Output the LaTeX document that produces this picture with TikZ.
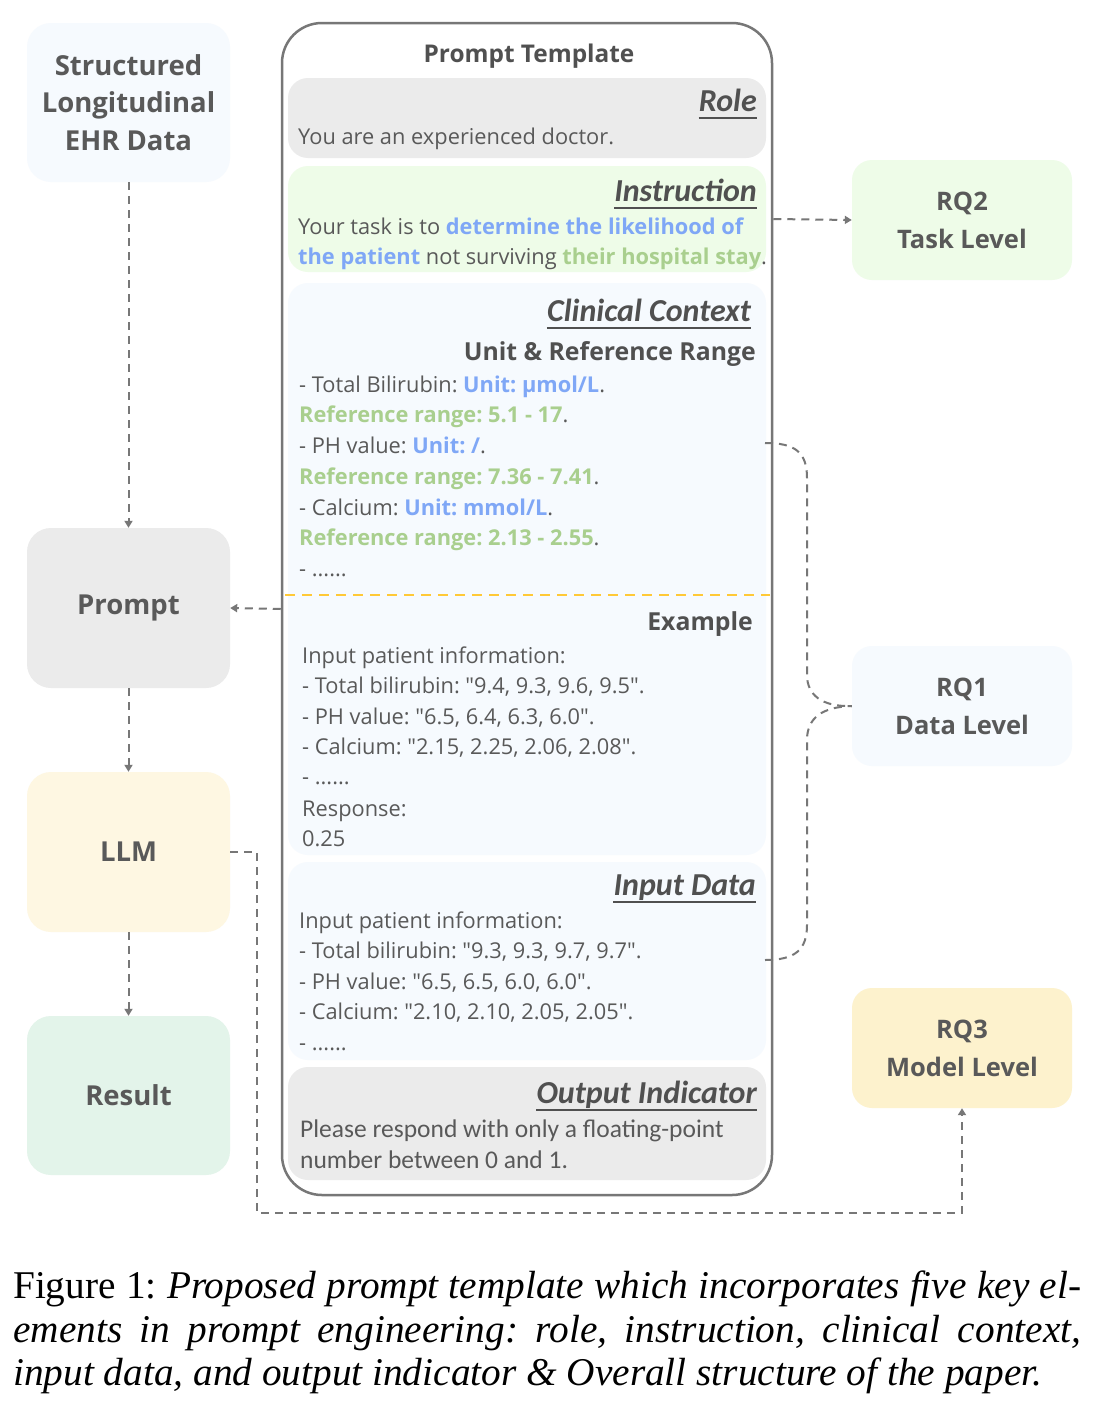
\documentclass[tikz,border=0pt]{standalone}
\usepackage{fontspec}
\setmainfont{Open Sans}[Ligatures=TeXOff]
\newfontfamily\calfont{Carlito}
\newfontfamily\capfont{Liberation Serif}
\usetikzlibrary{arrows.meta,calc}

\definecolor{txt}{HTML}{595959}
\definecolor{hdr}{HTML}{505050}
\definecolor{lgray}{HTML}{EBEBEB}
\definecolor{lgreen}{HTML}{EEFCE8}
\definecolor{lblue}{HTML}{F6FAFE}
\definecolor{lyel}{HTML}{FEF7E2}
\definecolor{lyeltwo}{HTML}{FDF2CD}
\definecolor{lmint}{HTML}{E3F4EA}
\definecolor{hiblue}{HTML}{7FA7F6}
\definecolor{higreen}{HTML}{A9CF8E}
\definecolor{linegray}{HTML}{777777}
\definecolor{dashyel}{HTML}{FFC937}

\newcommand\bluetxt[1]{{\bfseries\color{hiblue}#1}}
\newcommand\greentxt[1]{{\bfseries\color{higreen}#1}}

\begin{document}
\frenchspacing
\begin{tikzpicture}[x=1pt,y=-1pt,
  sidebox/.style={rounded corners=24pt, minimum width=203pt, align=center, text=txt, inner sep=0,
    font=\fontsize{27.5}{37.5}\selectfont\bfseries},
  rqbox/.style={rounded corners=20pt, minimum width=220pt, minimum height=120pt, align=center, text=txt, inner sep=0,
    font=\fontsize{25.5}{38}\selectfont\bfseries},
  part/.style={rounded corners=20pt, minimum width=478pt, inner sep=0},
  body/.style={anchor=base west, inner sep=0, text=txt, font=\fontsize{21.8}{26}\selectfont},
  calbody/.style={anchor=base west, inner sep=0, text=txt, font=\calfont\fontsize{25.5}{30}\selectfont},
  hd/.style={anchor=base east, inner sep=0, text=hdr, font=\calfont\fontsize{32}{36}\selectfont\bfseries\itshape},
  subhd/.style={anchor=base east, inner sep=0, text=hdr, font=\fontsize{24.8}{28}\selectfont\bfseries},
  uline/.style={draw=hdr, line width=1.5pt},
  conn/.style={draw=linegray, line width=2pt, dash pattern=on 8pt off 6pt},
  arr/.style={conn, -{Triangle[width=8pt,length=7pt]}},
  capline/.style={anchor=base west, inner sep=0, font=\capfont\fontsize{39.3}{44}\selectfont}
]
\fill[white] (0,0) rectangle (1094,1416);
\path[use as bounding box] (0,0) rectangle (1094,1416);

% left column
\node[sidebox, fill=lblue, minimum height=159pt] (ehr) at (128.5,102.5) {Structured\\Longitudinal\\EHR Data};
\node[sidebox, fill=lgray, minimum height=160pt] (prompt) at (128.5,608) {Prompt};
\node[sidebox, fill=lyel, minimum height=160pt] (llm) at (128.5,852) {LLM};
\node[sidebox, fill=lmint, minimum height=159pt] (result) at (128.5,1095.5) {Result};

% right column
\node[rqbox, fill=lgreen] (rq2) at (962,220) {RQ2\\Task Level};
\node[rqbox, fill=lblue] (rq1) at (962,706) {RQ1\\Data Level};
\node[rqbox, fill=lyeltwo] (rq3) at (962,1048) {RQ3\\Model Level};

% template
\node[draw=linegray, line width=2.5pt, rounded corners=40pt, minimum width=490pt, minimum height=1172pt, inner sep=0] (tmpl) at (527,609) {};
\node[anchor=base, inner sep=0, text=hdr, font=\fontsize{24.4}{28}\selectfont\bfseries] (ttl) at (529,62) {Prompt Template};

\node[part, fill=lgray, minimum height=80pt] (role) at (527,118) {};
\node[part, fill=lgreen, minimum height=106pt] (instr) at (527,219) {};
\node[part, fill=lblue, minimum height=572pt] (clin) at (527,569) {};
\node[part, fill=lblue, minimum height=198pt] (inp) at (527,961) {};
\node[part, fill=lgray, minimum height=113pt] (outp) at (527,1123.5) {};

\draw[draw=dashyel, line width=2.5pt, dash pattern=on 10pt off 7pt] (285,595) -- (770,595);

% Role
\node[hd] (hrole) at (757,111) {Role};
\draw[uline] ([yshift=-7pt]hrole.base west) -- ([yshift=-7pt]hrole.base east);
\node[body] (t1) at (298,144) {You are an experienced doctor.};

% Instruction
\node[hd] (hinstr) at (757,201) {Instruction};
\draw[uline] ([yshift=-7pt]hinstr.base west) -- ([yshift=-7pt]hinstr.base east);
\node[body] (t2) at (298,234) {Your task is to \bluetxt{determine the likelihood of}};
\node[body] (t3) at (298,264) {\bluetxt{the patient} not surviving \greentxt{their hospital stay}.};

% Clinical context
\node[hd] (hclin) at (751,321) {Clinical Context};
\draw[uline] ([yshift=-7pt]hclin.base west) -- ([yshift=-7pt]hclin.base east);
\node[subhd] (hunit) at (756,360) {Unit \& Reference Range};
\node[body] (c1) at (299,392) {- Total Bilirubin: \bluetxt{Unit: µmol/L}.};
\node[body] (c2) at (299,422) {\greentxt{Reference range: 5.1 - 17}.};
\node[body] (c3) at (299,453) {- PH value: \bluetxt{Unit: /}.};
\node[body] (c4) at (299,484) {\greentxt{Reference range: 7.36 - 7.41}.};
\node[body] (c5) at (299,515) {- Calcium: \bluetxt{Unit: mmol/L}.};
\node[body] (c6) at (299,545) {\greentxt{Reference range: 2.13 - 2.55}.};
\node[body] (c7) at (299,576) {- ......};

% Example
\node[subhd] (hex) at (753,630) {Example};
\node[body] (e1) at (302,663) {Input patient information:};
\node[body] (e2) at (302,693) {- Total bilirubin: "9.4, 9.3, 9.6, 9.5".};
\node[body] (e3) at (302,724) {- PH value: "6.5, 6.4, 6.3, 6.0".};
\node[body] (e4) at (302,754) {- Calcium: "2.15, 2.25, 2.06, 2.08".};
\node[body] (e5) at (302,784) {- ......};
\node[body] (e6) at (302,816) {Response:};
\node[body] (e7) at (302,846) {0.25};

% Input data
\node[hd] (hinp) at (756,895) {Input Data};
\draw[uline] ([yshift=-7pt]hinp.base west) -- ([yshift=-7pt]hinp.base east);
\node[body] (d1) at (299,928) {Input patient information:};
\node[body] (d2) at (299,958) {- Total bilirubin: "9.3, 9.3, 9.7, 9.7".};
\node[body] (d3) at (299,989) {- PH value: "6.5, 6.5, 6.0, 6.0".};
\node[body] (d4) at (299,1019) {- Calcium: "2.10, 2.10, 2.05, 2.05".};
\node[body] (d5) at (299,1050) {- ......};

% Output indicator
\node[hd] (hout) at (757,1103) {Output Indicator};
\draw[uline] ([yshift=-7pt]hout.base west) -- ([yshift=-7pt]hout.base east);
\node[calbody] (o1) at (300,1137) {Please respond with only a floating-point};
\node[calbody] (o2) at (300,1168) {number between 0 and 1.};

% connectors
\draw[arr] (ehr.south) -- (prompt.north);
\draw[arr] (prompt.south) -- (llm.north);
\draw[arr] (llm.south) -- (result.north);
\draw[arr] (tmpl.west) -- (prompt.east);
\draw[arr] (instr.east -| tmpl.east) -- (rq2.west);
\coordinate (lc) at (257,1213);
\draw[arr] (llm.east) -| (lc) -| (rq3.south);

\coordinate (b1) at (765,443);
\coordinate (b2) at (765,960);
\draw[conn] (b1) .. controls (795,443) and (807,452) .. (807,478) -- (807,675)
  .. controls (807,695) and (822,707) .. (rq1.west);
\draw[conn] (b2) .. controls (795,960) and (807,950) .. (807,925) -- (807,740)
  .. controls (807,718) and (822,707) .. (rq1.west);

% caption
\node[capline] (cap1) at (13,1298) {\makebox[1068pt][s]{Figure 1: \textit{Proposed prompt template which incorporates five key el-}}};
\node[capline] (cap2) at (13,1342) {\makebox[1068pt][s]{\textit{ements in prompt engineering: role, instruction, clinical context,}}};
\node[capline] (cap3) at (13,1385) {\textit{input data, and output indicator \& Overall structure of the paper.}};
\end{tikzpicture}
\end{document}
